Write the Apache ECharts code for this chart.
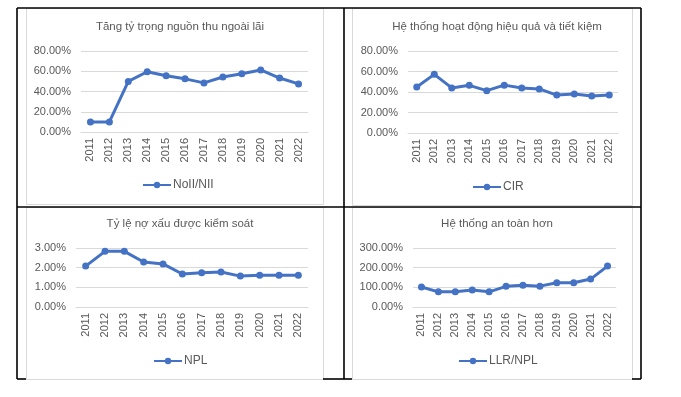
<!DOCTYPE html>
<html>
<head>
<meta charset="utf-8">
<script src="https://cdn.jsdelivr.net/npm/echarts@6/dist/echarts.min.js"></script>
<style>
  html, body { margin: 0; padding: 0; background: #fff; }
  #container { width: 681px; height: 397px; }
</style>
</head>
<body>
<div id="container"></div>
<script>
'use strict';

// data (percent)
let years = ['2011', '2012', '2013', '2014', '2015', '2016', '2017', '2018', '2019', '2020', '2021', '2022'];
let noiiNii = [10.0, 10.0, 50.0, 59.5, 55.5, 52.5, 48.5, 54.3, 57.5, 61.3, 53.3, 47.5];
let cir = [44.8, 57.2, 44.0, 46.5, 41.3, 46.7, 44.0, 43.0, 37.0, 38.0, 36.0, 37.0];
let npl = [2.08, 2.83, 2.83, 2.29, 2.19, 1.68, 1.74, 1.78, 1.57, 1.61, 1.61, 1.61];
let llrNpl = [102, 77, 77, 86, 77, 105, 110, 106, 123, 123, 142, 208];

let titles = [
  'Tăng tỷ trọng nguồn thu ngoài lãi',
  'Hệ thống hoạt động hiệu quả và tiết kiệm',
  'Tỷ lệ nợ xấu được kiểm soát',
  'Hệ thống an toàn hơn'
];
let seriesNames = ['NoII/NII', 'CIR', 'NPL', 'LLR/NPL'];
let seriesData = [noiiNii, cir, npl, llrNpl];
let yMax = [80, 80, 3, 300];
let yStep = [20, 20, 1, 100];

let FONT = '"Liberation Sans", Arial, sans-serif';
let GREY_TEXT = '#595959';
let GRID_LINE = '#d9d9d9';
let BLUE = '#4472C4';

// panel layout
let grids = [
  { left: 81, top: 51, width: 227, height: 81 },
  { left: 408, top: 51, width: 210, height: 82 },
  { left: 76, top: 248, width: 232, height: 59 },
  { left: 413, top: 248, width: 203, height: 59 }
];
let titlePos = [[175, 16], [492, 16], [175, 213], [492, 213]];
let legendPos = [[142, 179], [472, 181], [153, 355], [458, 355]];

function pct(v) {
  return v.toFixed(2) + '%';
}

function getOptions() {
  let opt = {
    backgroundColor: '#fff',
    animation: false,
    title: [],
    legend: [],
    grid: [],
    xAxis: [],
    yAxis: [],
    series: [],
    graphic: []
  };

  for (let i = 0; i < 4; i++) {
    opt.title.push({
      text: titles[i],
      left: titlePos[i][0],
      top: titlePos[i][1],
      textAlign: 'center',
      textStyle: { fontFamily: FONT, fontSize: 11.5, fontWeight: 'normal', color: GREY_TEXT }
    });
    opt.legend.push({
      data: [seriesNames[i]],
      left: legendPos[i][0],
      top: legendPos[i][1],
      padding: 0,
      itemWidth: 28,
      itemHeight: 8,
      itemGap: 2,
      textStyle: { fontFamily: FONT, fontSize: 12, color: GREY_TEXT, padding: [0, 0, 0, -3] }
    });
    opt.grid.push(Object.assign({ containLabel: false }, grids[i]));
    opt.xAxis.push({
      type: 'category',
      gridIndex: i,
      data: years,
      boundaryGap: true,
      axisLine: { lineStyle: { color: GRID_LINE, width: 1 } },
      axisTick: { show: false },
      axisLabel: { rotate: 90, margin: 6, color: GREY_TEXT, fontFamily: FONT, fontSize: 11, interval: 0 }
    });
    opt.yAxis.push({
      type: 'value',
      gridIndex: i,
      min: 0,
      max: yMax[i],
      interval: yStep[i],
      axisLine: { show: false },
      axisTick: { show: false },
      splitLine: { lineStyle: { color: GRID_LINE, width: 1 } },
      axisLabel: { formatter: pct, margin: 10, color: GREY_TEXT, fontFamily: FONT, fontSize: 11 }
    });
    opt.series.push({
      name: seriesNames[i],
      type: 'line',
      xAxisIndex: i,
      yAxisIndex: i,
      data: seriesData[i],
      symbol: 'circle',
      symbolSize: 7,
      color: BLUE,
      lineStyle: { width: 3, color: BLUE },
      itemStyle: { color: BLUE }
    });
  }

  // chart frames (light grey) and table borders (black)
  let frames = [[26, 8, 297, 196], [352, 8, 280, 197], [26, 207, 297, 172], [352, 207, 280, 172]];
  frames.forEach(function(f) {
    opt.graphic.push({
      type: 'rect', z: 1, silent: true,
      shape: { x: f[0] + 0.5, y: f[1] + 0.5, width: f[2], height: f[3] },
      style: { fill: null, stroke: GRID_LINE, lineWidth: 1 }
    });
  });
  let black = [
    [17, 8, 641, 8], [17, 207, 641, 207],
    [17, 379, 26, 379], [323, 379, 352, 379], [632, 379, 641, 379],
    [17, 8, 17, 379], [344, 8, 344, 379], [641, 8, 641, 379]
  ];
  black.forEach(function(l) {
    opt.graphic.push({
      type: 'line', z: 2, silent: true,
      shape: { x1: l[0], y1: l[1], x2: l[2], y2: l[3] },
      style: { stroke: '#000', lineWidth: 1.6 }
    });
  });

  return opt;
}

var dom = document.getElementById('container');
var myChart = echarts.init(dom, null, { renderer: 'canvas' });
myChart.setOption(getOptions());
</script>
</body>
</html>
